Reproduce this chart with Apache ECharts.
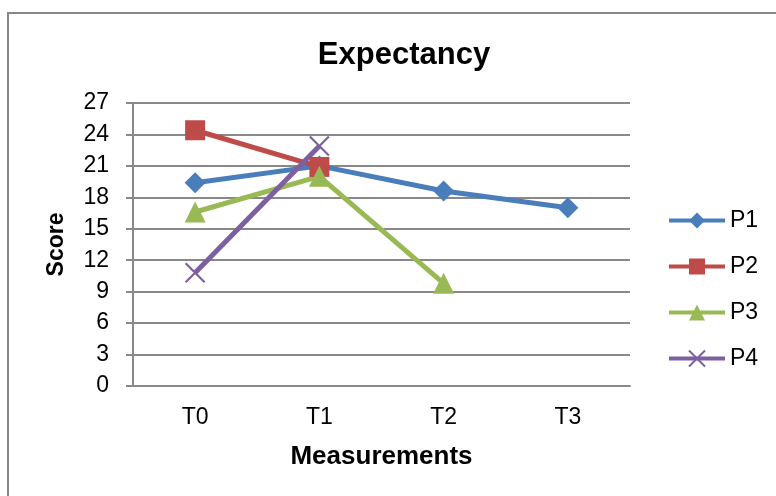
<!DOCTYPE html>
<html><head><meta charset="utf-8">
<script src="https://cdn.jsdelivr.net/npm/echarts@6/dist/echarts.min.js"></script>
<style>html,body{margin:0;padding:0;background:#fff}#c{width:776px;height:496px}</style>
</head><body><div id="c"></div>
<script>
const categories = ['T0','T1','T2','T3'];
const p1 = [19.4, 21.0, 18.6, 17.0];
const p2 = [24.4, 20.9, null, null];
const p3 = [16.6, 20.0, 9.8, null];
const p4 = [10.8, 22.9, null, null];
const yTicks = [0,3,6,9,12,15,18,21,24,27];

const chart = echarts.init(document.getElementById('c'), null, {renderer:'canvas'});
const font = 'Liberation Sans, Arial, sans-serif';
const CROSS = 'path://M0,0L10,10M10,0L0,10';
function s(name, data, color, symbol, size){
  return {name, type:'line', data, color, symbol, symbolSize:size, connectNulls:false,
    lineStyle:{width:5,color}, itemStyle:{color, borderColor:color, borderWidth: symbol===CROSS?2.2:0}};
}
chart.setOption({
  animation:false,
  backgroundColor:'#fff',
  graphic:[{type:'rect', shape:{x:8,y:13,width:800,height:520}, style:{fill:'none',stroke:'#898989',lineWidth:2}, z:-1}],
  title:{text:'Expectancy', left:399, textAlign:'center', top:35, textStyle:{fontFamily:font,fontWeight:'bold',fontSize:31,color:'#000'}},
  grid:{left:133,right:146,top:103,bottom:110},
  legend:{orient:'vertical', left:662, top:204, itemWidth:56, itemHeight:20, itemGap:23,
    lineStyle:{width:4},
    textStyle:{fontFamily:font,fontSize:23,color:'#000'}, data:['P1','P2','P3','P4']},
  xAxis:{type:'category', data:categories, boundaryGap:true, name:'Measurements', nameLocation:'middle', nameGap:58,
    nameTextStyle:{fontFamily:font,fontWeight:'bold',fontSize:26,color:'#000'},
    axisLine:{lineStyle:{color:'#898989',width:2}}, axisTick:{show:false},
    axisLabel:{fontFamily:font,fontSize:23,color:'#000',margin:20}},
  yAxis:{type:'value', min:0, max:27, interval:3, name:'Score', nameLocation:'middle', nameGap:65,
    nameTextStyle:{fontFamily:font,fontWeight:'bold',fontSize:23,color:'#000'},
    axisLine:{show:true,lineStyle:{color:'#898989',width:2}}, axisTick:{show:true,length:7,lineStyle:{color:'#898989',width:2}},
    splitLine:{lineStyle:{color:'#898989',width:2}},
    axisLabel:{fontFamily:font,fontSize:23,color:'#000',margin:24, formatter:v=>yTicks.includes(v)?String(v):''}},
  series:[
    s('P1',p1,'#4A7EBB','diamond',21),
    s('P2',p2,'#BE4B48','rect',20),
    s('P3',p3,'#98B954','triangle',21),
    s('P4',p4,'#7D60A0',CROSS,19)
  ]
});
</script></body></html>
